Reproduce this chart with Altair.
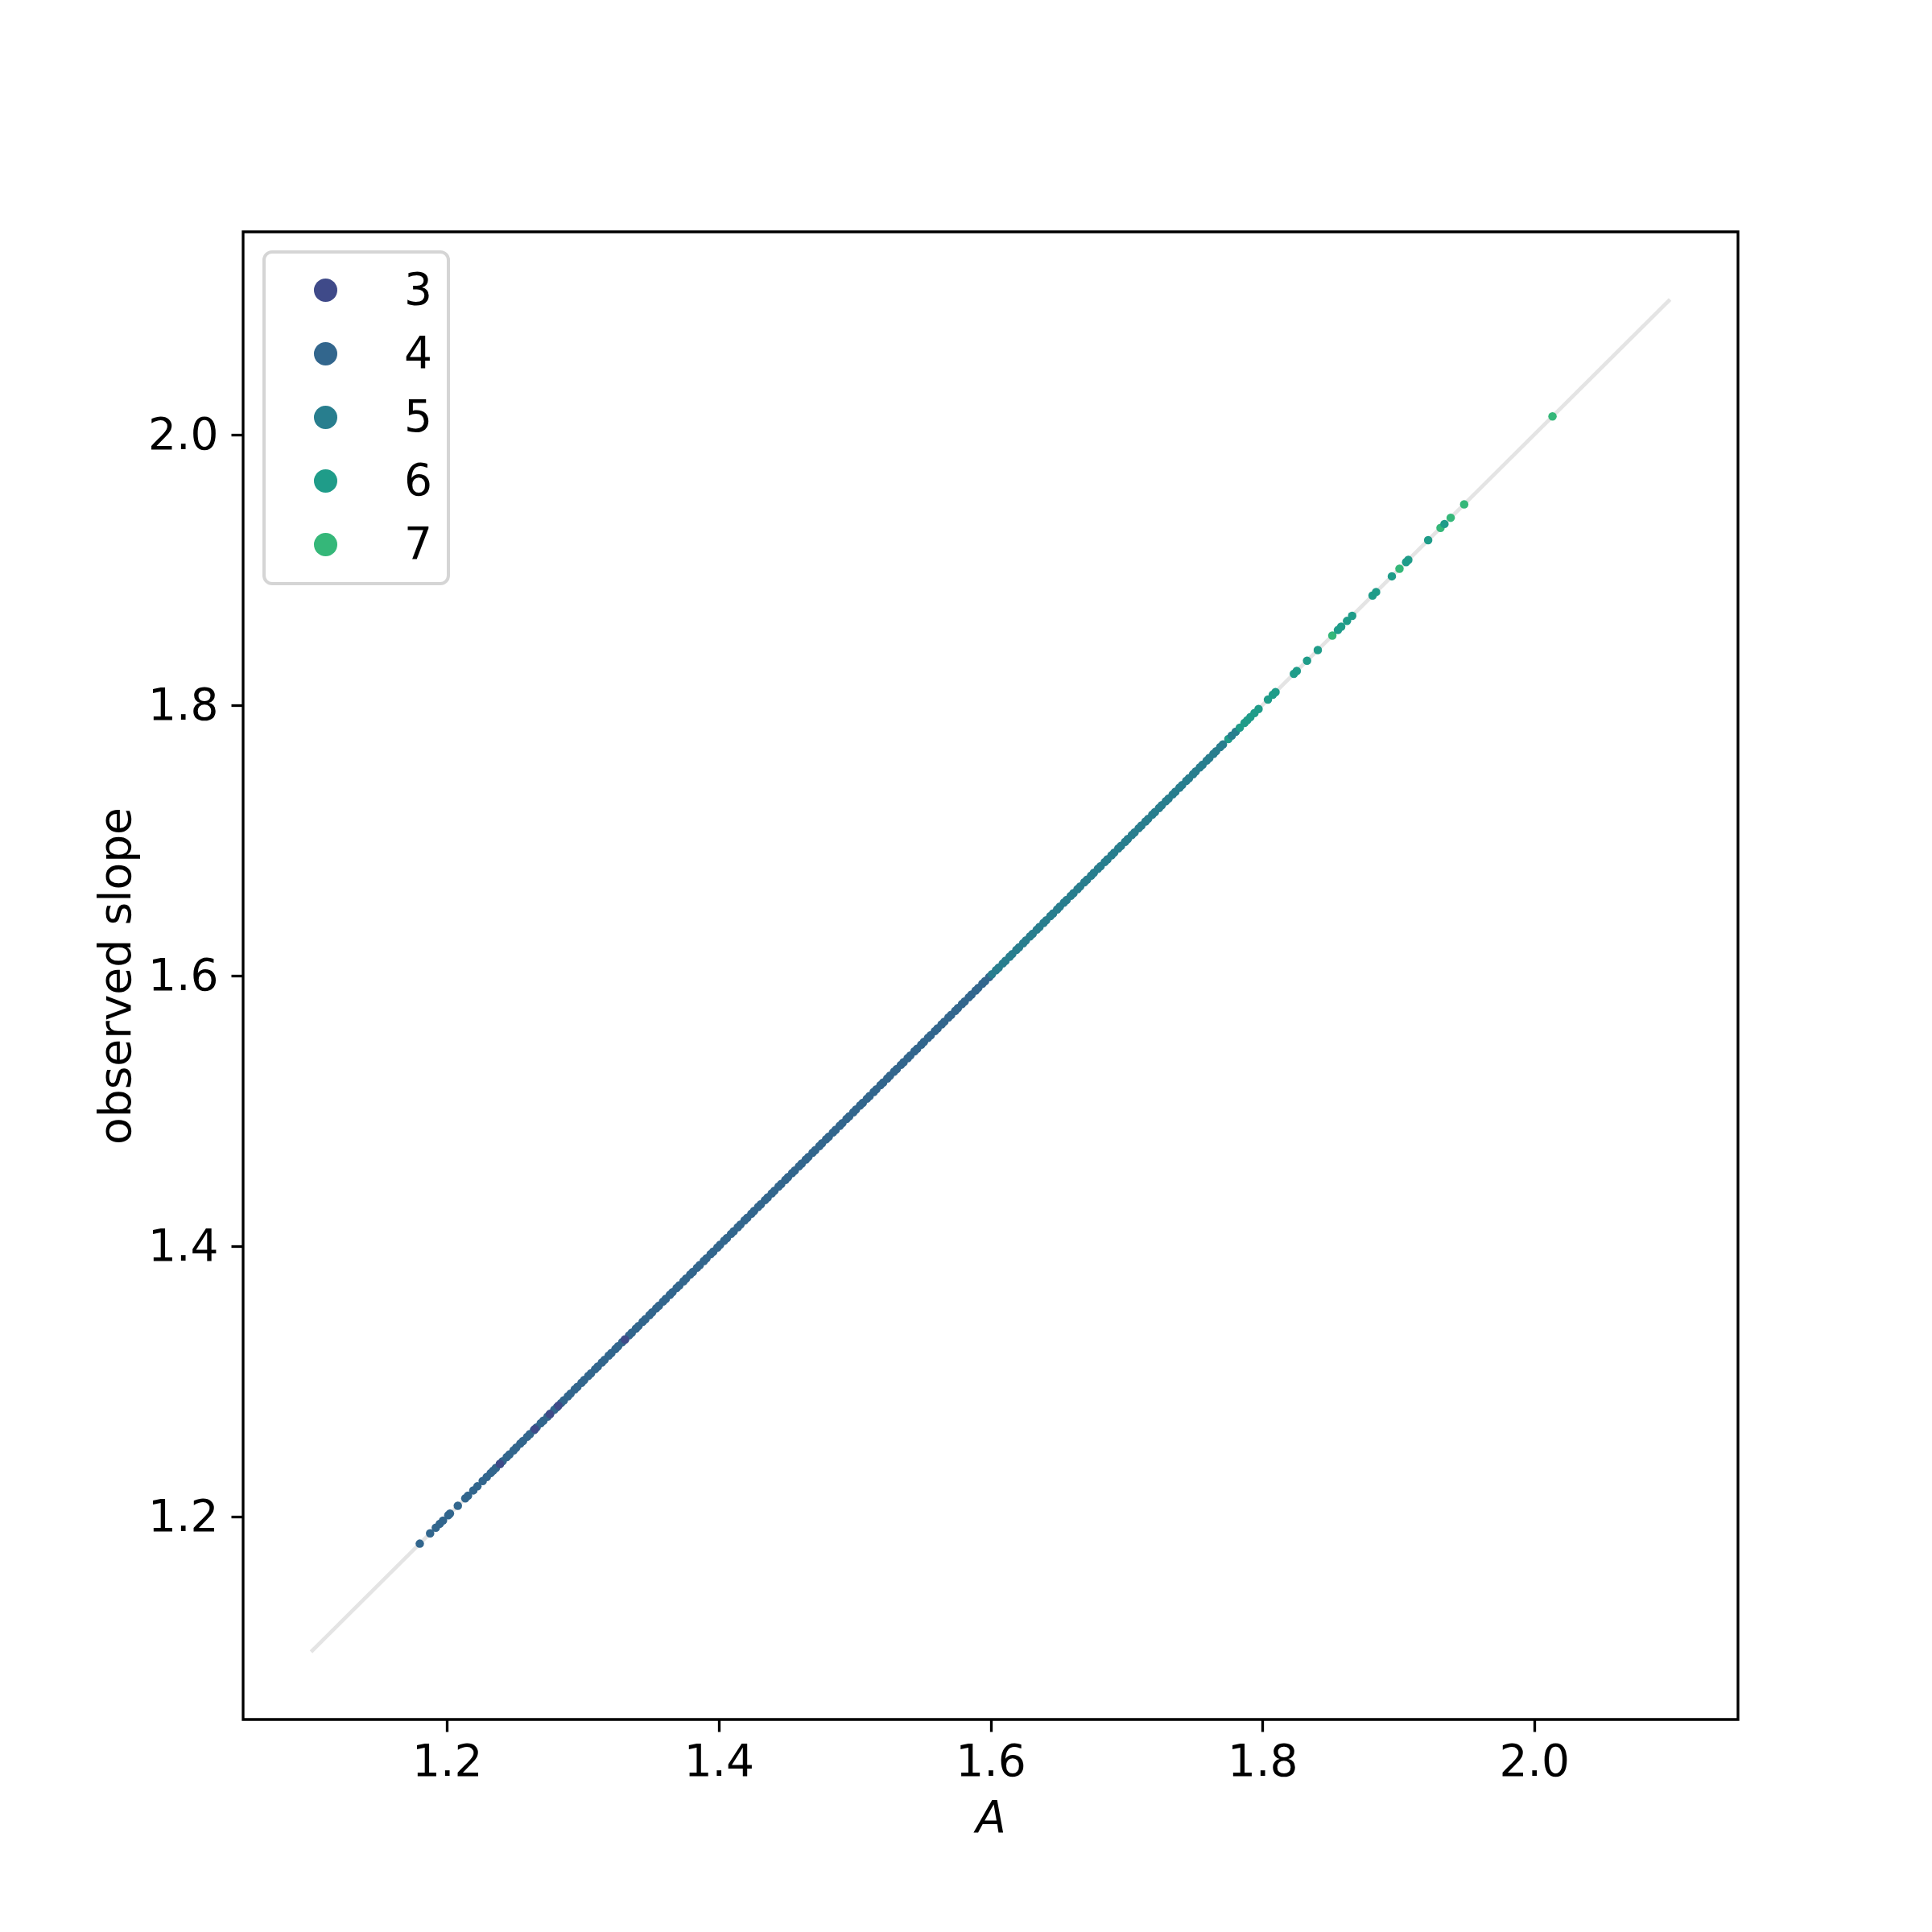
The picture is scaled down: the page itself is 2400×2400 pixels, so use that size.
import altair as alt
import pandas as pd

# --- data ---------------------------------------------------------------
# category 4: sparse lower tail + dense band
a_cat4 = [1.180, 1.1876, 1.1918, 1.1947, 1.1971, 1.201, 1.2022, 1.208, 1.2135, 1.2155,
          1.2194, 1.2224, 1.2263, 1.2293, 1.2322,
          1.234, 1.236, 1.239, 1.241, 1.244, 1.246, 1.249, 1.251, 1.254, 1.256, 1.259, 1.261,
          1.264, 1.266, 1.269, 1.271, 1.274, 1.276, 1.279, 1.281, 1.284, 1.286, 1.289, 1.291,
          1.294, 1.296, 1.299, 1.301, 1.304, 1.306, 1.309, 1.311, 1.314, 1.316, 1.319, 1.321,
          1.324, 1.326, 1.329, 1.331, 1.334, 1.336, 1.339, 1.341, 1.344, 1.346, 1.349, 1.351,
          1.354, 1.356, 1.359, 1.361, 1.364, 1.366, 1.369, 1.371, 1.374, 1.376, 1.379, 1.381,
          1.384, 1.386, 1.389, 1.391, 1.394, 1.396, 1.399, 1.401, 1.404, 1.406, 1.409, 1.411,
          1.414, 1.416, 1.419, 1.421, 1.424, 1.426, 1.429, 1.431, 1.434, 1.436, 1.439, 1.441,
          1.444, 1.446, 1.449, 1.451, 1.454, 1.456, 1.459, 1.461, 1.464, 1.466, 1.469, 1.471,
          1.474, 1.476, 1.479, 1.481, 1.484, 1.486, 1.489, 1.491, 1.494, 1.496, 1.499, 1.501,
          1.504, 1.506, 1.509, 1.511, 1.514, 1.516, 1.519, 1.521, 1.524, 1.526, 1.529, 1.531,
          1.534, 1.536, 1.539, 1.541, 1.544, 1.546, 1.549, 1.551, 1.554, 1.556, 1.559, 1.561,
          1.564, 1.566, 1.569, 1.571, 1.574, 1.576, 1.579, 1.581, 1.584, 1.586, 1.589, 1.591,
          1.594, 1.596, 1.599]
# category 5: dense band
a_cat5 = [1.601, 1.604, 1.606, 1.609, 1.611, 1.614, 1.616, 1.619, 1.621, 1.624, 1.626, 1.629,
          1.631, 1.634, 1.636, 1.639, 1.641, 1.644, 1.646, 1.649, 1.651, 1.654, 1.656, 1.659,
          1.661, 1.664, 1.666, 1.669, 1.671, 1.674, 1.676, 1.679, 1.681, 1.684, 1.686, 1.689,
          1.691, 1.694, 1.696, 1.699, 1.701, 1.704, 1.706, 1.709, 1.711, 1.714, 1.716, 1.719,
          1.721, 1.724, 1.726, 1.729, 1.731, 1.734, 1.736, 1.739, 1.741, 1.744, 1.746, 1.749,
          1.751, 1.754, 1.756, 1.759, 1.761, 1.764, 1.766, 1.769, 1.771, 1.7775, 1.7804]
# category 6: sparse upper tail
a_cat6 = [1.7834, 1.7869, 1.7889, 1.7912, 1.7942, 1.7972, 1.8041, 1.8077, 1.8097, 1.8232,
          1.8253, 1.8329, 1.8408, 1.8556, 1.858, 1.8623, 1.8661, 1.8811, 1.8837, 1.8953,
          1.9058, 1.9074, 1.922, 1.934]
a_cat6_under = [1.775]
# category 3: isolated points inside the band
a_cat3 = [1.239, 1.2647, 1.2757, 1.282, 1.331]
# category 7: isolated points in the upper tail
a_cat7 = [1.8515, 1.9009, 1.9311, 1.9386, 1.9485, 2.0135]

categories = [3, 4, 5, 6, 7]
cat_colors = ["#3f4a89", "#32668d", "#287e8e", "#1f9c89", "#35b779"]

x_ticks = [1.2, 1.4, 1.6, 1.8, 2.0]
y_ticks = [1.2, 1.4, 1.6, 1.8, 2.0]

line_a = [1.1, 2.1]
line_slope = [1.1, 2.1]

# --- build tables -------------------------------------------------------
rows = []
for n, vals in [(6, a_cat6_under), (4, a_cat4), (5, a_cat5), (3, a_cat3),
                (7, a_cat7), (6, a_cat6)]:
    for v in vals:
        rows.append({"A": v, "slope": v, "n": n})
pts = pd.DataFrame(rows)
ref = pd.DataFrame({"A": line_a, "slope": line_slope})

FONT = "DejaVu Sans"
FS = 55

xscale = alt.Scale(domain=[1.05, 2.15], nice=False, zero=False)
yscale = alt.Scale(domain=[1.05, 2.15], nice=False, zero=False)

xaxis = alt.Axis(values=x_ticks, format=".1f", title="A", titleFontStyle="italic",
                 titleFontWeight="normal", titleFontSize=FS, titleFont=FONT,
                 labelFontSize=FS, labelFont=FONT, labelColor="black",
                 tickSize=15, tickWidth=3.3, tickColor="black", domain=False,
                 grid=False, labelPadding=11, titlePadding=16, titleColor="black")
yaxis = alt.Axis(values=y_ticks, format=".1f", title="observed slope",
                 titleFontWeight="normal", titleFontSize=FS, titleFont=FONT,
                 labelFontSize=FS, labelFont=FONT, labelColor="black",
                 tickSize=15, tickWidth=3.3, tickColor="black", domain=False,
                 grid=False, labelPadding=16, titlePadding=10, titleColor="black")

line = alt.Chart(ref).mark_line(color="#e4e4e4", strokeWidth=4.7).encode(
    x=alt.X("A:Q", scale=xscale, axis=xaxis),
    y=alt.Y("slope:Q", scale=yscale, axis=yaxis),
)

points = alt.Chart(pts).mark_circle(size=110, opacity=1).encode(
    x=alt.X("A:Q", scale=xscale),
    y=alt.Y("slope:Q", scale=yscale),
    color=alt.Color("n:N", scale=alt.Scale(domain=categories, range=cat_colors),
                    legend=alt.Legend(title=None, orient="none", legendX=26, legendY=25,
                                      fillColor="white", strokeColor="#d5d5d5",
                                      padding=20,
                                      symbolType="circle", symbolSize=841,
                                      symbolStrokeWidth=0, symbolOffset=29,
                                      labelOffset=70, labelFontSize=FS, labelFont=FONT,
                                      labelColor="black", rowPadding=23)),
)

chart = alt.layer(line, points).properties(
    width=1857, height=1848,
    autosize=alt.AutoSizeParams(type="none"),
    padding={"left": 294, "top": 280, "right": 233, "bottom": 256},
    background="white",
).configure(font=FONT
).configure_view(stroke="black", strokeWidth=3.3
).configure_legend(strokeWidth=4, cornerRadius=10)

chart.save("out.html", embed_options={"renderer": "svg", "actions": False})
